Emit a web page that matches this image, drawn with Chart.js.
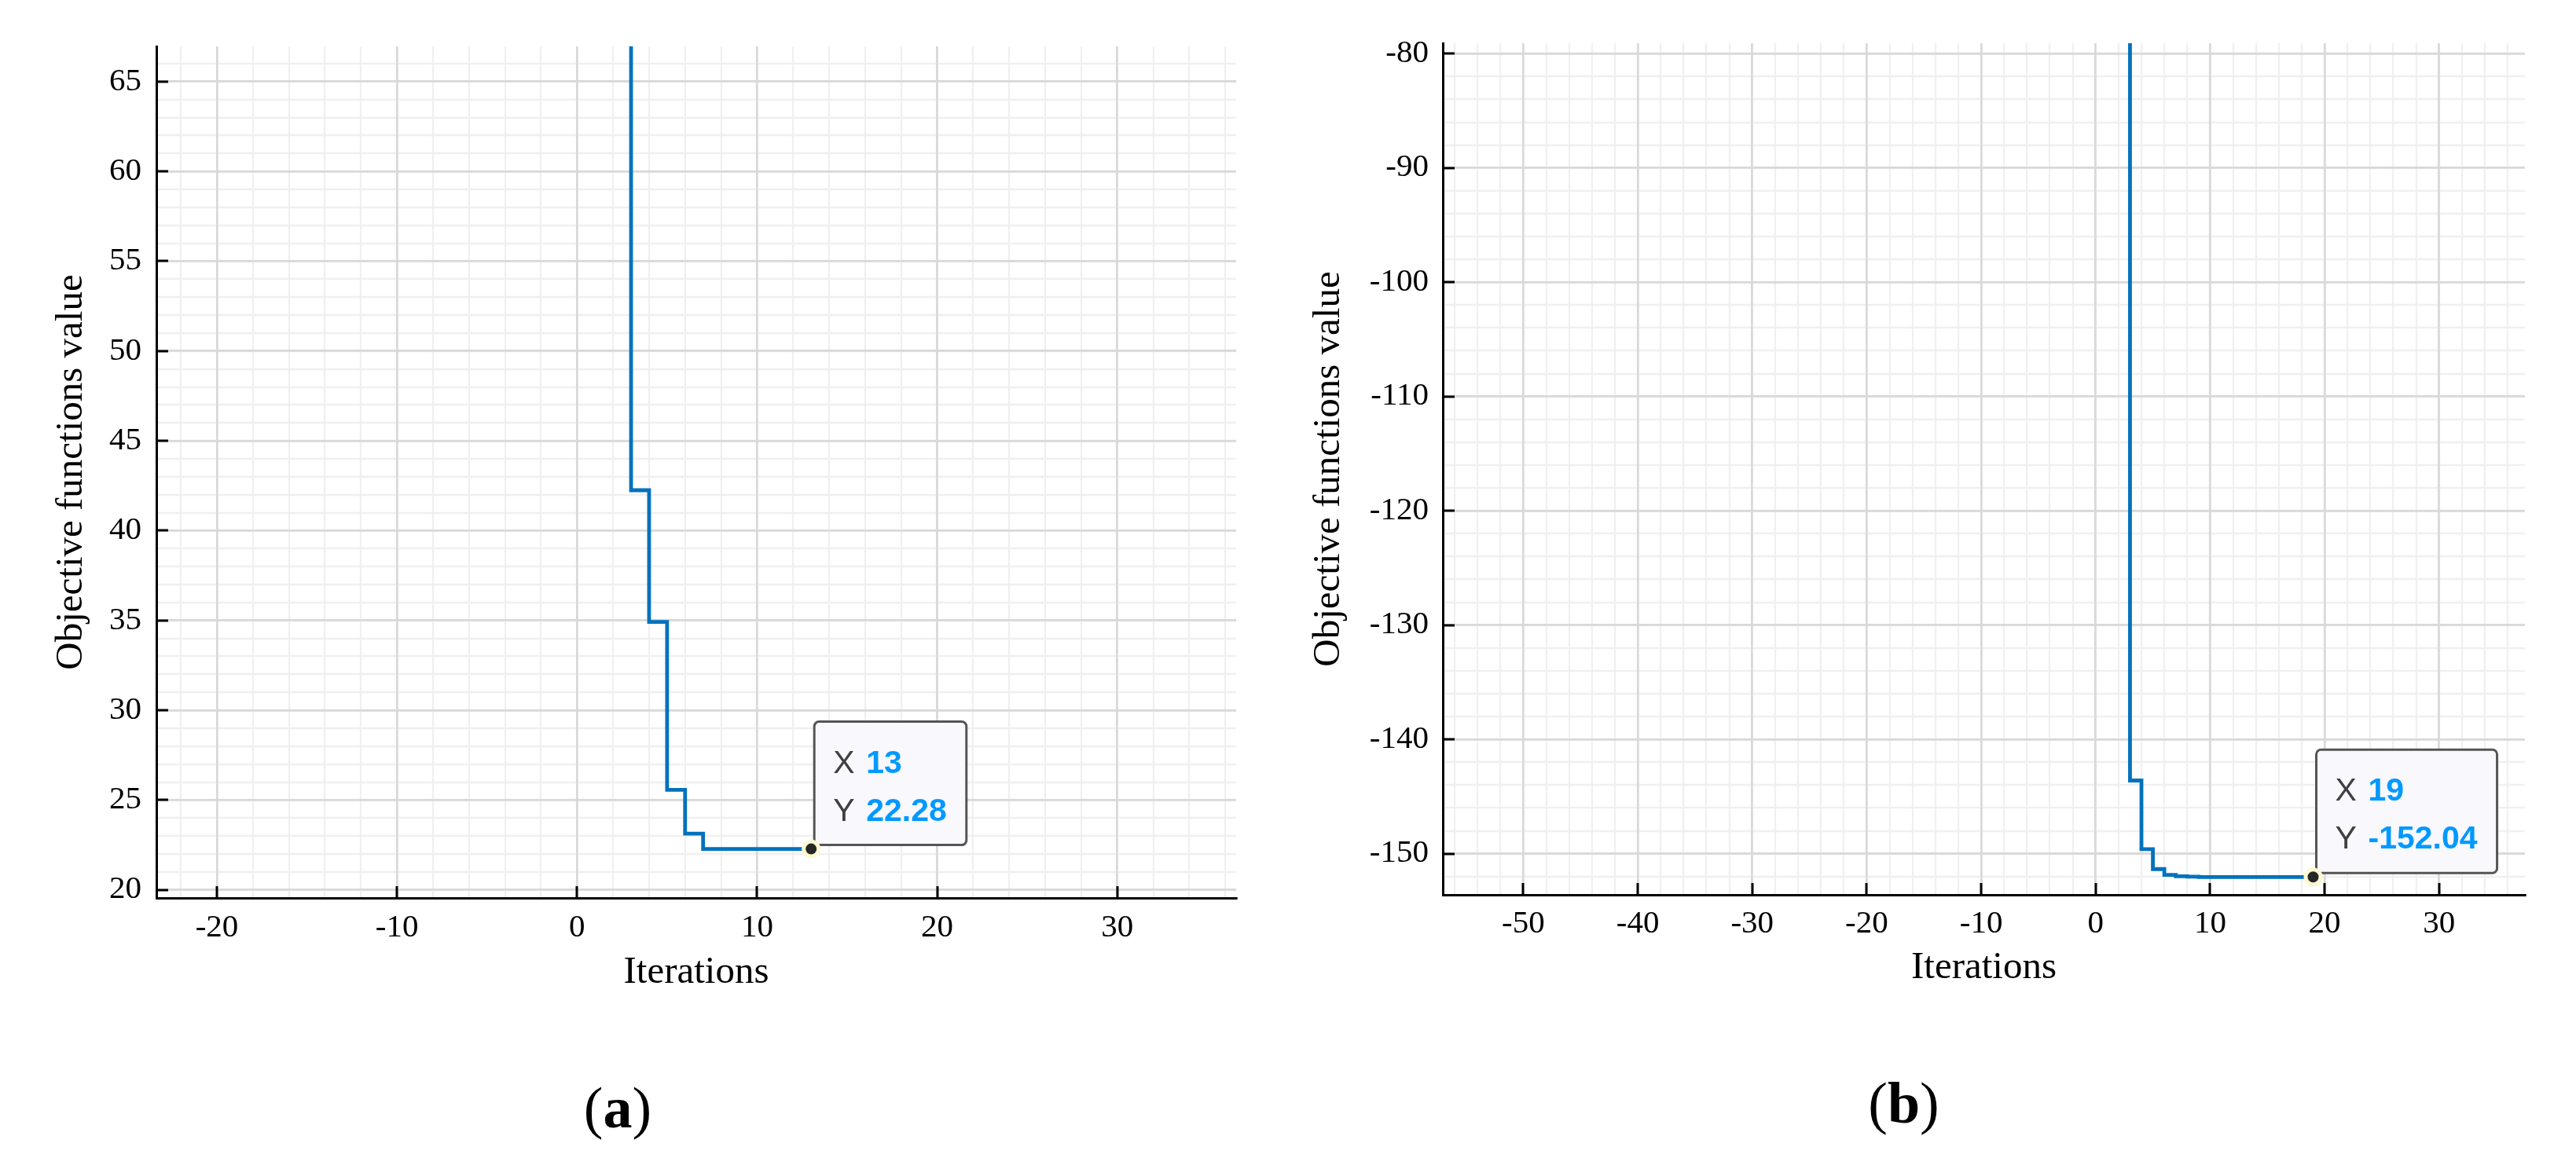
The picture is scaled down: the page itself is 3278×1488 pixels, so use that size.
<!DOCTYPE html>
<html>
<head>
<meta charset="utf-8">
<script src="https://cdn.jsdelivr.net/npm/chart.js@4/dist/chart.umd.min.js"></script>
<style>
    html, body { margin: 0; padding: 0; background: #fff; }
    body { width: 3278px; height: 1488px; position: relative; overflow: hidden; }
    canvas { position: absolute; top: 0; }
    #chartA { left: 0; }
    #chartB { left: 1650px; }
</style>
</head>
<body>
<canvas id="chartA" width="1620" height="1488"></canvas>
<canvas id="chartB" width="1628" height="1488"></canvas>
<script>
// (a) objective value per iteration (first two are above the visible range)
const iterationsA = [1, 2, 3, 4, 5, 6, 7, 8, 9, 10, 11, 12, 13];
const objectiveA = [95.7, 81.2, 42.25, 34.92, 25.57, 23.13, 22.28, 22.28, 22.28, 22.28, 22.28, 22.28, 22.28];
const xTicksA = [-20, -10, 0, 10, 20, 30];
const yTicksA = [20, 25, 30, 35, 40, 45, 50, 55, 60, 65];
const xRangeA = [-23.36, 36.6];
const yRangeA = [19.55, 66.96];

// (b)
const iterationsB = [1, 2, 3, 4, 5, 6, 7, 8, 9, 10, 11, 12, 13, 14, 15, 16, 17, 18, 19];
const objectiveB = [-61.5, -72.8, -143.6, -149.6, -151.35, -151.85, -151.98, -152.01, -152.04, -152.04,
    -152.04, -152.04, -152.04, -152.04, -152.04, -152.04, -152.04, -152.04, -152.04];
const xTicksB = [-50, -40, -30, -20, -10, 0, 10, 20, 30];
const yTicksB = [-150, -140, -130, -120, -110, -100, -90, -80];
const xRangeB = [-57.03, 37.5];
const yRangeB = [-153.6, -79.09];

const SERIF = '"Liberation Serif", "Times New Roman", serif';
const SANS = '"Liberation Sans", Arial, sans-serif';

const minorGridPlugin = {
    id: 'minorGrid',
    beforeDraw(chart, args, opts) {
        const { ctx, chartArea, scales: { x, y } } = chart;
        ctx.save();
        ctx.strokeStyle = '#f0f0f0';
        ctx.lineWidth = 2.3;
        ctx.beginPath();
        for (let v = Math.ceil(x.min / opts.xStep) * opts.xStep; v <= x.max; v += opts.xStep) {
            const px = Math.round(x.getPixelForValue(v));
            ctx.moveTo(px, chartArea.top);
            ctx.lineTo(px, chartArea.bottom);
        }
        for (let v = Math.ceil(y.min / opts.yStep) * opts.yStep; v <= y.max; v += opts.yStep) {
            const py = Math.round(y.getPixelForValue(v));
            ctx.moveTo(chartArea.left, py);
            ctx.lineTo(chartArea.right, py);
        }
        ctx.stroke();
        ctx.restore();
    }
};

// data tip box anchored at the last point
const datatipPlugin = {
    id: 'datatip',
    beforeDatasetsDraw(chart) {
        const { ctx, scales: { x, y } } = chart;
        const data = chart.data.datasets[0].data;
        const last = data[data.length - 1];
        const px = x.getPixelForValue(last.x);
        const py = y.getPixelForValue(last.y);
        const rows = [['X', String(last.x)], ['Y', last.y.toFixed(2)]];
        const labelFont = '41px ' + SANS;
        const valueFont = 'bold 41px ' + SANS;

        ctx.save();
        ctx.font = valueFont;
        const valueWidth = Math.max(...rows.map(r => ctx.measureText(r[1]).width));
        const w = 66 + valueWidth + 25;
        const h = 157;
        const left = px + 4;
        const top = py - 5 - h;
        const r = 6;

        ctx.beginPath();
        ctx.moveTo(left + r, top);
        ctx.arcTo(left + w, top, left + w, top + h, r);
        ctx.arcTo(left + w, top + h, left, top + h, r);
        ctx.arcTo(left, top + h, left, top, r);
        ctx.arcTo(left, top, left + w, top, r);
        ctx.closePath();
        ctx.fillStyle = '#f8f8fd';
        ctx.fill();
        ctx.strokeStyle = '#555555';
        ctx.lineWidth = 3;
        ctx.stroke();

        ctx.textAlign = 'left';
        ctx.textBaseline = 'alphabetic';
        rows.forEach((row, i) => {
            const base = top + 65 + i * 61;
            ctx.font = labelFont;
            ctx.fillStyle = '#404040';
            ctx.fillText(row[0], left + 24, base);
            ctx.font = valueFont;
            ctx.fillStyle = '#0099ff';
            ctx.fillText(row[1], left + 66, base);
        });
        ctx.restore();
    }
};

// tick marks pointing into the plot
const innerTicksPlugin = {
    id: 'innerTicks',
    afterDatasetsDraw(chart) {
        const { ctx, chartArea, scales: { x, y } } = chart;
        ctx.save();
        ctx.strokeStyle = '#000';
        ctx.lineWidth = 3;
        ctx.beginPath();
        x.ticks.forEach(t => {
            const px = Math.round(x.getPixelForValue(t.value));
            ctx.moveTo(px, chartArea.bottom);
            ctx.lineTo(px, chartArea.bottom - 15);
        });
        y.ticks.forEach(t => {
            const py = Math.round(y.getPixelForValue(t.value));
            ctx.moveTo(chartArea.left, py);
            ctx.lineTo(chartArea.left + 15, py);
        });
        ctx.stroke();
        ctx.restore();
    }
};

const captionPlugin = {
    id: 'caption',
    afterDraw(chart, args, opts) {
        const { ctx } = chart;
        const parts = [['(', 'normal'], [opts.text, 'bold'], [')', 'normal']];
        ctx.save();
        ctx.fillStyle = '#000';
        ctx.textAlign = 'left';
        ctx.textBaseline = 'alphabetic';
        const widths = parts.map(([t, wt]) => {
            ctx.font = wt + ' 74px ' + SERIF;
            return ctx.measureText(t).width;
        });
        let cx = opts.x - widths.reduce((a, b) => a + b, 0) / 2;
        parts.forEach(([t, wt], i) => {
            ctx.font = wt + ' 74px ' + SERIF;
            ctx.fillText(t, cx, opts.y);
            cx += widths[i];
        });
        ctx.restore();
    }
};

function createObjectiveChart(canvasId, iterations, values, setup) {
    const lastIndex = iterations.length - 1;
    const ctx = document.getElementById(canvasId).getContext('2d');
    return new Chart(ctx, {
        type: 'line',
        data: {
            datasets: [{
                data: iterations.map((x, i) => ({ x, y: values[i] })),
                stepped: 'before',
                borderColor: '#0072bd',
                borderWidth: 4.8,
                fill: false,
                clip: 0,
                pointRadius: c => (c.dataIndex === lastIndex ? 9.5 : 0),
                pointBackgroundColor: '#262626',
                pointBorderColor: '#fbf8d2',
                pointBorderWidth: 5
            }]
        },
        options: {
            responsive: false,
            animation: false,
            devicePixelRatio: 1,
            events: [],
            layout: { padding: setup.padding },
            plugins: {
                legend: { display: false },
                tooltip: { enabled: false },
                minorGrid: setup.minor,
                caption: setup.caption
            },
            scales: {
                x: {
                    type: 'linear',
                    min: setup.xRange[0],
                    max: setup.xRange[1],
                    afterBuildTicks: s => { s.ticks = setup.xTicks.map(v => ({ value: v })); },
                    afterFit: s => { s.height = setup.xHeight; },
                    ticks: {
                        color: '#000',
                        padding: setup.xTickPad,
                        maxRotation: 0,
                        autoSkip: false,
                        font: { family: SERIF, size: 41 }
                    },
                    grid: { color: '#d9d9d9', lineWidth: 2.7, drawTicks: false },
                    border: { color: '#000', width: 3 },
                    title: {
                        display: true,
                        text: 'Iterations',
                        color: '#000',
                        font: { family: SERIF, size: 49 },
                        padding: { top: 0, bottom: setup.xTitlePad }
                    }
                },
                y: {
                    type: 'linear',
                    min: setup.yRange[0],
                    max: setup.yRange[1],
                    afterBuildTicks: s => { s.ticks = setup.yTicks.map(v => ({ value: v })); },
                    afterFit: s => { s.width = setup.yWidth; },
                    ticks: {
                        color: '#000',
                        padding: setup.yTickPad,
                        autoSkip: false,
                        font: { family: SERIF, size: 41 }
                    },
                    grid: { color: '#d9d9d9', lineWidth: 2.7, drawTicks: false },
                    border: { color: '#000', width: 3 },
                    title: {
                        display: true,
                        text: 'Objective functions value',
                        color: '#000',
                        font: { family: SERIF, size: 49 },
                        padding: { top: setup.yTitlePad, bottom: 0 }
                    }
                }
            }
        },
        plugins: [minorGridPlugin, datatipPlugin, innerTicksPlugin, captionPlugin]
    });
}

createObjectiveChart('chartA', iterationsA, objectiveA, {
    padding: { left: 0, top: 59, right: 47, bottom: 208 },
    xRange: xRangeA, yRange: yRangeA, xTicks: xTicksA, yTicks: yTicksA,
    yWidth: 199, xHeight: 137,
    yTitlePad: 61.6, xTitlePad: 12.5, yTickPad: 19, xTickPad: 14,
    minor: { xStep: 2, yStep: 1 },
    caption: { text: 'a', x: 786, y: 1435 }
});

createObjectiveChart('chartB', iterationsB, objectiveB, {
    padding: { left: 0, top: 55, right: 65, bottom: 208 },
    xRange: xRangeB, yRange: yRangeB, xTicks: xTicksB, yTicks: yTicksB,
    yWidth: 186, xHeight: 141,
    yTitlePad: 12.1, xTitlePad: 18.2, yTickPad: 18, xTickPad: 13,
    minor: { xStep: 2, yStep: 2 },
    caption: { text: 'b', x: 772.5, y: 1429 }
});
</script>
</body>
</html>
